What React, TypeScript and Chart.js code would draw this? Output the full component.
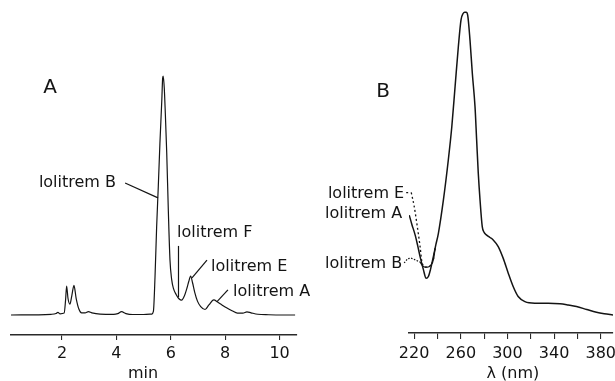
import React, { useEffect, useRef } from 'react';
import { Chart, registerables } from 'chart.js';

Chart.register(...registerables);

const FONT = '"DejaVu Sans", "Liberation Sans", sans-serif';
const INK = '#141414';
const AXIS = '#2a2a2a';

// ---------- Panel A: HPLC chromatogram ----------
const retentionTimeMin = [
  0.12, 1.6, 1.78, 1.85, 1.93, 2.08, 2.13, 2.17, 2.22, 2.29, 2.36, 2.44, 2.52, 2.62, 2.72,
  2.85, 2.97, 3.1, 3.4, 3.9, 4.05, 4.19, 4.35, 4.6, 5.0, 5.3, 5.36, 5.42, 5.48, 5.54,
  5.6, 5.67, 5.7, 5.72, 5.76, 5.8, 5.85, 5.91, 5.97, 6.03, 6.1, 6.2, 6.3, 6.4, 6.5,
  6.6, 6.66, 6.73, 6.8, 6.88, 6.98, 7.1, 7.26, 7.4, 7.58, 7.72, 7.87, 8.05, 8.25, 8.45,
  8.65, 8.8, 8.95, 9.2, 9.6, 10.1, 10.57,
];
const detectorResponse = [
  0, 0.3, 0.6, 1.1, 0.5, 0.8, 6, 12.1, 7, 4.5, 8, 12.4, 7, 2.5, 0.9,
  0.9, 1.4, 0.9, 0.4, 0.3, 0.6, 1.4, 0.6, 0.2, 0.2, 0.4, 1.5, 16, 37, 53.7,
  71.8, 90, 99, 100, 95, 84, 68, 43.5, 23, 15, 11, 8.5, 6.8, 6.2, 8,
  11.5, 14, 16.3, 13.5, 9.5, 5.8, 3.5, 2.3, 4.2, 6.3, 5.4, 4.3, 3.0, 1.8, 0.8,
  0.8, 1.3, 0.9, 0.3, 0.1, 0, 0,
];
const timeTickLabels = [2, 4, 6, 8, 10];

// ---------- Panel B: UV spectra ----------
const wavelengthLolitremA = [
  215.8, 218, 220.9, 223, 225.1, 228, 230.3, 232.2, 234, 236.5, 238.5, 240.8, 245.1, 249.3,
  252.3, 255.1, 257.9, 260.2, 262, 263.3, 264.6, 265.9, 267.9, 269.9, 272.2, 273.6, 275,
  276.5, 278.4, 280, 282.2, 285, 287.8, 292.1, 296.4, 300.7, 304.9, 309.2, 315, 323.5,
  335, 345, 352, 359.2, 368, 376.3, 383, 390.5,
];
const absorbanceLolitremA = [
  33, 30, 26.4, 23, 19.3, 14.9, 12.1, 12.7, 15, 19.3, 23, 27, 38, 51.2,
  62.2, 75.4, 88.6, 97.5, 99.6, 100, 100, 99.1, 90.8, 79.8, 68.8, 57.8, 46.8,
  38, 29.2, 27.3, 26.4, 25.6, 24.8, 22.6, 18.7, 13.8, 9.4, 6.1, 4.4, 3.9,
  3.9, 3.7, 3.3, 2.8, 1.8, 0.9, 0.4, 0,
];
const wavelengthLolitremE = [217.5, 220, 222.3, 225.1, 226.6, 228, 229.4, 231.5, 233.7, 236.5, 238];
const absorbanceLolitremE = [40.5, 36, 30.3, 22.6, 17.6, 16.3, 15.8, 15.8, 16.2, 18.3, 22];
const wavelengthLolitremB = [225.1, 227, 229.4, 231.5, 233.7, 236.5, 238];
const absorbanceLolitremB = [17.5, 16.4, 15.8, 15.8, 16.2, 18.3, 22];
const wavelengthTickLabels = [220, 260, 300, 340, 380];

const pts = (xs: number[], ys: number[]) => xs.map((x, i) => ({ x, y: ys[i] }));

type Txt = { text: string; x: number; y: number; align: CanvasTextAlign; size: number };
type Lead = { pts: [number, number][]; dash?: number[] };

function overlay(texts: Txt[], leaders: Lead[], title: { text: string; x: number; dy: number }) {
  return {
    id: 'overlay',
    afterDraw(chart: any) {
      const { ctx, scales, chartArea } = chart;
      const sx = scales.x;
      const sy = scales.y;
      ctx.save();
      ctx.strokeStyle = INK;
      ctx.fillStyle = INK;
      ctx.lineWidth = 1.2;
      for (const l of leaders) {
        ctx.setLineDash(l.dash || []);
        ctx.beginPath();
        l.pts.forEach(([x, y], i) => {
          const px = sx.getPixelForValue(x);
          const py = sy.getPixelForValue(y);
          if (i === 0) ctx.moveTo(px, py);
          else ctx.lineTo(px, py);
        });
        ctx.stroke();
      }
      ctx.setLineDash([]);
      ctx.textBaseline = 'middle';
      for (const t of texts) {
        ctx.font = `${t.size}px ${FONT}`;
        ctx.textAlign = t.align;
        ctx.fillText(t.text, sx.getPixelForValue(t.x), sy.getPixelForValue(t.y));
      }
      ctx.font = `16px ${FONT}`;
      ctx.textAlign = 'center';
      ctx.fillText(title.text, sx.getPixelForValue(title.x), chartArea.bottom + title.dy);
      ctx.restore();
    },
  };
}

function xScale(min: number, max: number, step: number, labels: number[], axisH: number, tickLen: number, pad: number) {
  return {
    type: 'linear',
    min,
    max,
    afterFit: (s: any) => {
      s.height = axisH;
    },
    border: { display: true, color: AXIS, width: 1.4 },
    grid: { drawOnChartArea: false, drawTicks: true, tickLength: tickLen, color: AXIS, lineWidth: 1.1 },
    ticks: {
      stepSize: step,
      includeBounds: false,
      autoSkip: false,
      maxRotation: 0,
      padding: pad,
      color: INK,
      font: { family: FONT, size: 16 },
      callback: (v: number) => (labels.includes(Math.round(v)) ? String(Math.round(v)) : ''),
    },
  };
}

export default function App() {
  const refA = useRef<HTMLCanvasElement>(null);
  const refB = useRef<HTMLCanvasElement>(null);

  useEffect(() => {
    const chartA = new Chart(refA.current as HTMLCanvasElement, {
      type: 'line',
      data: {
        datasets: [
          {
            data: pts(retentionTimeMin, detectorResponse),
            borderColor: INK,
            borderWidth: 1.2,
            pointRadius: 0,
            cubicInterpolationMode: 'monotone',
            fill: false,
          },
        ],
      },
      options: {
        responsive: false,
        animation: false,
        events: [],
        layout: { padding: { left: 11, right: 13, top: 0, bottom: 0 } },
        plugins: { legend: { display: false }, tooltip: { enabled: false } },
        scales: {
          x: xScale(0.125, 10.64, 2, timeTickLabels, 46, 5, 4) as any,
          y: { display: false, min: -8.37, max: 131.8 },
        },
      },
      plugins: [
        overlay(
          [
            { text: 'A', x: 1.56, y: 95, align: 'center', size: 20 },
            { text: 'lolitrem B', x: 1.15, y: 55.2, align: 'left', size: 16 },
            { text: 'lolitrem F', x: 6.23, y: 34.3, align: 'left', size: 16 },
            { text: 'lolitrem E', x: 7.48, y: 20.1, align: 'left', size: 16 },
            { text: 'lolitrem A', x: 8.29, y: 9.6, align: 'left', size: 16 },
          ],
          [
            { pts: [[4.32, 55.2], [5.53, 49]] },
            { pts: [[6.283, 28.9], [6.283, 7.4]] },
            { pts: [[7.33, 23], [6.78, 15.5]] },
            { pts: [[8.1, 10.5], [7.7, 5.6]] },
          ],
          { text: 'min', x: 4.98, dy: 39 }
        ) as any,
      ],
    });

    const chartB = new Chart(refB.current as HTMLCanvasElement, {
      type: 'line',
      data: {
        datasets: [
          {
            data: pts(wavelengthLolitremA, absorbanceLolitremA),
            borderColor: INK,
            borderWidth: 1.5,
            pointRadius: 0,
            cubicInterpolationMode: 'monotone',
            fill: false,
          },
          {
            data: pts(wavelengthLolitremE, absorbanceLolitremE),
            borderColor: INK,
            borderWidth: 1.3,
            borderDash: [2, 2.5],
            pointRadius: 0,
            cubicInterpolationMode: 'monotone',
            fill: false,
          },
          {
            data: pts(wavelengthLolitremB, absorbanceLolitremB),
            borderColor: INK,
            borderWidth: 1.2,
            pointRadius: 0,
            cubicInterpolationMode: 'monotone',
            fill: false,
          },
        ],
      },
      options: {
        responsive: false,
        animation: false,
        events: [],
        layout: { padding: { left: 99, right: 17, top: 0, bottom: 0 } },
        plugins: { legend: { display: false }, tooltip: { enabled: false } },
        scales: {
          x: xScale(215.6, 390.5, 20, wavelengthTickLabels, 48, 6, 5) as any,
          y: { display: false, min: -5.95, max: 104.06 },
        },
      },
      plugins: [
        overlay(
          [
            { text: 'B', x: 193.5, y: 73.7, align: 'center', size: 20 },
            { text: 'lolitrem E', x: 211.45, y: 40, align: 'right', size: 16 },
            { text: 'lolitrem A', x: 209.7, y: 33.4, align: 'right', size: 16 },
            { text: 'lolitrem B', x: 209.7, y: 16.8, align: 'right', size: 16 },
          ],
          [
            { pts: [[213.2, 40.4], [216.6, 40.5]], dash: [2, 2] },
            { pts: [[211.45, 17.2], [214.5, 18.6], [217.4, 18.8], [221, 18.2], [225.1, 17.5]], dash: [1.5, 1.5] },
          ],
          { text: 'λ (nm)', x: 304.7, dy: 41 }
        ) as any,
      ],
    });

    return () => {
      chartA.destroy();
      chartB.destroy();
    };
  }, []);

  return (
    <div
      style={{
        position: 'fixed',
        left: 0,
        top: 0,
        width: 615,
        height: 381,
        overflow: 'hidden',
        background: '#fff',
      }}
    >
      <div style={{ position: 'absolute', left: 0, top: 0, width: 310, height: 381 }}>
        <canvas ref={refA} width={310} height={381} style={{ display: 'block' }} />
      </div>
      <div style={{ position: 'absolute', left: 310, top: 0, width: 320, height: 381 }}>
        <canvas ref={refB} width={320} height={381} style={{ display: 'block' }} />
      </div>
    </div>
  );
}
